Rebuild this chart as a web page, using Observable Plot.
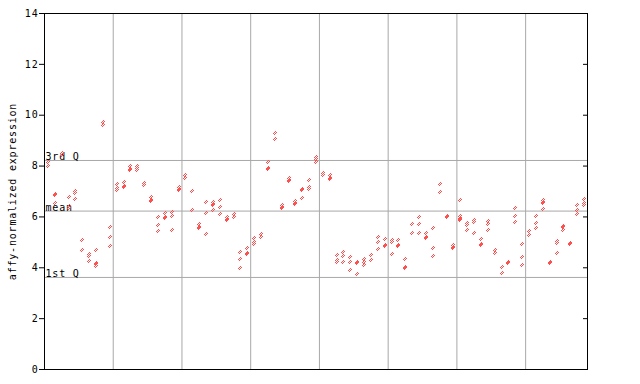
<!DOCTYPE html>
<html><head><meta charset="utf-8">
<script src="https://cdn.jsdelivr.net/npm/d3@7"></script>
<script src="https://cdn.jsdelivr.net/npm/@observablehq/plot@0.6"></script>
<style>body{margin:0;background:#fff}</style>
</head><body><div id="chart"></div>
<script>
// expression values per sample (replicates)
const values = [
  [8.17, 8.0], [6.92, 6.88, 6.53], [8.53, 8.44], [6.77, 6.43, 6.35], [7.03, 6.94, 6.69],
  [5.11, 4.69], [4.56, 4.48, 4.25], [4.68, 4.19, 4.15, 4.07], [9.75, 9.62], [5.59, 5.23, 4.84],
  [7.30, 7.12, 7.05], [7.37, 7.21, 7.17], [8.02, 7.87, 7.83], [8.02, 7.93, 7.85], [7.35, 7.26],
  [6.80, 6.68, 6.64], [5.98, 5.67, 5.44], [6.14, 6.00, 5.96], [6.18, 6.02, 5.47], [7.18, 7.10, 7.04],
  [7.65, 7.52], [7.02, 6.27], [5.72, 5.61, 5.55], [6.57, 6.14, 5.31], [6.57, 6.49, 6.45, 6.27],
  [6.66, 6.40, 6.11], [5.98, 5.90, 5.86], [6.11, 6.01], [4.63, 4.33, 4.01], [4.76, 4.57, 4.53],
  [5.18, 5.02, 4.92], [5.31, 5.20], [8.15, 7.91, 7.87], [9.29, 9.06], [6.47, 6.38, 6.34],
  [7.54, 7.45, 7.41], [6.64, 6.55, 6.51], [7.08, 7.04, 6.73], [7.44, 7.16, 7.09], [8.37, 8.27, 8.16],
  [7.72, 7.64], [7.64, 7.53, 7.49], [4.52, 4.30, 4.21], [4.61, 4.46, 4.22], [4.42, 4.21, 3.93],
  [4.21, 4.17, 3.77], [4.34, 4.21, 4.11], [4.52, 4.30], [5.23, 5.00, 4.73], [5.13, 4.88, 4.84],
  [5.09, 5.00, 4.56], [5.09, 4.91, 4.87], [4.34, 4.05, 4.01], [5.74, 5.35], [5.98, 5.71, 5.35],
  [5.37, 5.20, 5.16], [5.55, 4.76, 4.46], [7.28, 7.00], [6.04, 6.00], [4.89, 4.83, 4.79],
  [6.65, 6.03, 5.95, 5.91, 5.86], [5.76, 5.68, 5.48], [5.86, 5.82, 5.35], [5.15, 4.95, 4.91], [5.84, 5.74, 5.48],
  [4.69, 4.59], [4.05, 3.81], [4.21, 4.17], [6.34, 6.03, 5.82], [4.92, 4.44, 4.09],
  [5.44, 5.27], [6.02, 5.78, 5.55], [6.65, 6.58, 6.54, 6.32], [4.21, 4.17], [5.05, 4.96, 4.60],
  [5.63, 5.59, 5.48], [4.96, 4.92], [6.48, 6.26, 6.10], [6.69, 6.56, 6.45]
];
const groupSizes = [10, 10, 10, 10, 10, 10, 10, 9];
const yTicks = [0, 2, 4, 6, 8, 10, 12, 14];
const quartileValues = [3.62, 6.23, 8.22];
const quartileLabels = ["1st Q", "mean", "3rd Q"];
const yLabel = "affy-normalized expression";

const points = values.flatMap((vs, i) => vs.map(v => ({i, v})));
const breaks = Array.from(d3.cumsum(groupSizes)).slice(0, -1).map(c => c - 0.5);
const quart = quartileValues.map((v, k) => ({v, label: quartileLabels[k]}));
const red = "#ff5050";
const grid = "#a8a8a8";

const svg = Plot.plot({
  width: 640, height: 384,
  marginLeft: 44, marginRight: 53, marginTop: 13, marginBottom: 15,
  style: {fontFamily: "DejaVu Sans Mono", fontSize: "10px", color: "#000", background: "#fff", letterSpacing: "0.8px"},
  x: {domain: [-0.5, values.length - 0.5], axis: null},
  y: {domain: [0, 14], axis: null},
  marks: [
    Plot.ruleX(breaks, {stroke: grid}),
    Plot.ruleY(quart, {y: "v", stroke: grid}),
    Plot.text(quart, {y: "v", text: "label", frameAnchor: "left", textAnchor: "start", lineAnchor: "bottom", dx: 1, dy: 0, fill: "#000"}),
    Plot.dot(points, {x: "i", y: "v", symbol: "diamond2", r: 2.4, fill: red, stroke: "none"}),
    Plot.frame({stroke: "#000"}),
    Plot.axisY({anchor: "left", ticks: yTicks, tickSize: 5, tickPadding: 1, label: null, tickFormat: d => String(d)}),
    Plot.axisY({anchor: "right", ticks: yTicks, tickSize: 5, dx: -5, label: null, tickFormat: () => ""}),
    Plot.text([yLabel], {frameAnchor: "left", rotate: -90, dx: -32, textAnchor: "middle", lineAnchor: "middle", fill: "#000"})
  ]
});
document.getElementById("chart").appendChild(svg);

// checkered diamond fill anchored at each glyph
const ns = "http://www.w3.org/2000/svg";
const defs = document.createElementNS(ns, "defs");
const pat = document.createElementNS(ns, "pattern");
pat.setAttribute("id", "ck"); pat.setAttribute("width", "2"); pat.setAttribute("height", "2");
pat.setAttribute("patternUnits", "userSpaceOnUse");
for (const [x, y] of [[0, 0], [1, 1]]) {
  const r = document.createElementNS(ns, "rect");
  r.setAttribute("x", x); r.setAttribute("y", y); r.setAttribute("width", 1); r.setAttribute("height", 1);
  r.setAttribute("fill", red);
  pat.appendChild(r);
}
defs.appendChild(pat);
svg.insertBefore(defs, svg.firstChild);

const g = svg.querySelector('g[aria-label="dot"]');
if (g) {
  let gx = 0, gy = 0;
  const gt = g.getAttribute("transform");
  if (gt) { const m = gt.match(/translate\(([-\d.e]+)[ ,]+([-\d.e]+)\)/); if (m) { gx = +m[1]; gy = +m[2]; } }
  g.setAttribute("fill", "url(#ck)");
  g.setAttribute("shape-rendering", "crispEdges");
  for (const p of g.querySelectorAll("path")) {
    const t = p.getAttribute("transform");
    const m = t && t.match(/translate\(([-\d.e]+)[ ,]+([-\d.e]+)\)/);
    if (m) {
      const x = Math.round(+m[1] + gx) - gx, y = Math.round(+m[2] + gy) - gy;
      p.setAttribute("transform", `translate(${x},${y})`);
    }
    p.removeAttribute("fill");
  }
}
</script>
</body></html>
